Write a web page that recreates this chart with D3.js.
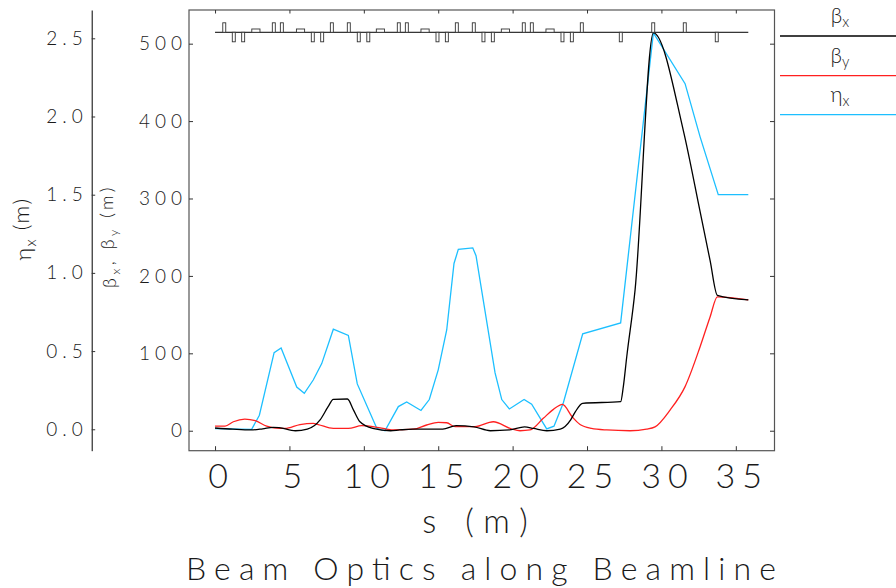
<!DOCTYPE html>
<html>
<head>
<meta charset="utf-8">
<script src="https://cdn.jsdelivr.net/npm/d3@7"></script>
<style>
body { margin: 0; background: #fff; }
svg { display: block; font-family: "Lato", sans-serif; font-weight: 300; }
svg text { fill: #1a1a1a; }
</style>
</head>
<body>
<script>
"use strict";
// s (m) vs beta_x (m)
const betaX = [[0,3.5],[1.2,2],[2.4,1],[3.2,2.5],[3.9,4.4],[4.3,4],[5.4,0],[6.2,2],[7.06,14],[7.6,31],[7.95,40.5],[8.9,41],[9.3,27],[9.74,11.6],[10.6,3],[11.8,0],[12.4,1],[13.3,2],[15.3,2],[16.2,6.5],[17.4,5],[18.5,0],[19.8,1],[20.8,5],[21.4,3],[22.3,0],[23.2,2],[23.9,14],[24.2,24],[24.7,35.4],[27.26,37.5],[27.44,57],[27.67,95.6],[28.23,182],[29.46,514],[31.47,388],[32.6,283],[33.27,220],[33.76,175],[35.84,169]];
// s (m) vs beta_y (m)
const betaY = [[0,6],[0.67,6],[1.23,11.6],[2.0,15],[2.7,13],[3.47,6],[4.37,3],[4.7,3],[5.71,8],[6.6,9.5],[6.94,8],[7.95,3],[8.96,3],[9.86,6.5],[10.87,4.4],[11.54,2],[12.0,1],[13.33,2],[14.22,7.4],[15.0,10.8],[15.57,10.3],[16.13,5.2],[17.47,5.2],[18.7,11.6],[19.94,2.2],[20.5,0],[21.17,1],[22.06,16],[22.74,27.6],[23.35,34],[24.0,18],[24.53,8],[25.3,3],[26.32,1],[27.89,0],[29.0,2],[29.57,5],[30.58,26.7],[31.59,57],[32.6,108.5],[33.27,147],[33.76,173],[35.84,169]];
// s (m) vs eta_x (m)
const etaX = [[0,0.004],[2.46,0],[2.98,0.09],[3.97,0.49],[4.44,0.52],[5.49,0.27],[6.0,0.23],[6.6,0.315],[7.17,0.42],[7.95,0.64],[8.96,0.6],[9.56,0.29],[10.87,0.006],[11.42,-0.01],[12.32,0.145],[12.88,0.175],[13.84,0.12],[14.4,0.19],[15.0,0.38],[15.57,0.635],[16.06,1.06],[16.35,1.15],[17.32,1.16],[17.54,1.11],[18.82,0.36],[19.27,0.19],[19.78,0.13],[20.77,0.19],[21.28,0.16],[22.29,0.002],[22.78,0.02],[23.41,0.17],[24.71,0.61],[27.26,0.68],[29.46,2.535],[31.59,2.21],[32.6,1.87],[33.82,1.5],[35.84,1.5]];
// beamline elements: start s (m)
const quadF = [0.52,3.85,4.39,7.75,8.89,12.25,12.79,16.15,17.29,20.65,21.19,24.55,29.35,31.47];
const quadD = [1.16,1.79,6.47,7.10,9.56,10.20,14.85,15.48,17.94,18.57,23.25,23.88,27.17,33.62];
const bends = [2.47,5.47,10.84,13.84,19.24,22.24];
const lineEnd = 35.84;
const sTicks = [0,5,10,15,20,25,30,35];
const betaTicks = [0,100,200,300,400,500];
const etaTicks = [0,0.5,1.0,1.5,2.0,2.5];

const W = 896, H = 588;
const L = 189, R = 774.5, T = 10, B = 450.7;
const svg = d3.select("body").append("svg").attr("width", W).attr("height", H);

const x = d3.scaleLinear().domain([-1.75, 37.6]).range([L, R]);
const yB = d3.scaleLinear().domain([-25.8, 543.5]).range([B, T]);
const yE = d3.scaleLinear().domain([-0.137, 2.681]).range([B, T]);

// frame
svg.append("rect").attr("x", L).attr("y", T).attr("width", R - L).attr("height", B - T)
	.attr("fill", "none").attr("stroke", "#555").attr("stroke-width", 1.2);

const gB = svg.append("g").attr("transform", `translate(${L},0)`)
	.call(d3.axisLeft(yB).tickValues(betaTicks).tickSize(-4).tickPadding(7).tickSizeOuter(0))
	.attr("font-family", null);
gB.select(".domain").remove();
gB.selectAll("text").attr("font-size", 19).style("letter-spacing", "5px").attr("dx", 5);

svg.append("g").attr("transform", `translate(${R},0)`)
	.call(d3.axisRight(yB).tickValues(betaTicks).tickSize(-4.5).tickFormat("").tickSizeOuter(0))
	.select(".domain").remove();
svg.append("g").attr("transform", `translate(0,${T})`)
	.call(d3.axisTop(x).tickValues(sTicks).tickSize(-3.5).tickFormat("").tickSizeOuter(0))
	.select(".domain").remove();

const gX = svg.append("g").attr("transform", `translate(0,${B})`)
	.call(d3.axisBottom(x).tickValues(sTicks).tickSize(-4.5).tickPadding(13).tickSizeOuter(0))
	.attr("font-family", null);
gX.select(".domain").remove();
gX.selectAll("text").attr("font-size", 34).style("letter-spacing", "7px").attr("dx", 6);

const gE = svg.append("g").attr("transform", "translate(91.7,0)")
	.call(d3.axisLeft(yE).tickValues(etaTicks).tickFormat(d3.format(".1f")).tickSize(-3.5).tickPadding(9).tickSizeOuter(0))
	.attr("font-family", null);
gE.select(".domain").attr("stroke", "#000");
gE.selectAll("text").attr("font-size", 19).style("letter-spacing", "5px").attr("dx", 5);

svg.selectAll(".tick line").attr("stroke", "#333");

// curves
const lineB = d3.line().x(d => x(d[0])).y(d => yB(d[1])).curve(d3.curveMonotoneX);
const lineE = d3.line().x(d => x(d[0])).y(d => yE(d[1]));
svg.append("path").datum(etaX).attr("d", lineE).attr("fill", "none").attr("stroke", "#1cbfff").attr("stroke-width", 1.3);
svg.append("path").datum(betaY).attr("d", lineB).attr("fill", "none").attr("stroke", "#ff2020").attr("stroke-width", 1.3);
svg.append("path").datum(betaX).attr("d", lineB).attr("fill", "none").attr("stroke", "#000").attr("stroke-width", 1.3);

// beamline layout on top
const base = yB(514.7);
const g = svg.append("g");
g.append("line").attr("x1", x(0)).attr("x2", x(lineEnd)).attr("y1", base).attr("y2", base).attr("stroke", "#000");
g.selectAll(".qf").data(quadF).enter().append("rect")
	.attr("x", d => x(d)).attr("width", x(0.2) - x(0)).attr("y", base - 9.5).attr("height", 9.5);
g.selectAll(".qd").data(quadD).enter().append("rect")
	.attr("x", d => x(d)).attr("width", x(0.2) - x(0)).attr("y", base).attr("height", 9.5);
g.selectAll(".bd").data(bends).enter().append("rect")
	.attr("x", d => x(d)).attr("width", x(0.55) - x(0)).attr("y", base - 3.3).attr("height", 3.3);
g.selectAll("rect").attr("fill", "#fff").attr("stroke", "#333").attr("stroke-width", 0.9);

// axis titles
svg.append("text").attr("x", 480).attr("y", 533).attr("text-anchor", "middle")
	.attr("font-size", 33).style("letter-spacing", "10px").text("s (m)");
svg.append("text").attr("x", 481).attr("y", 580).attr("text-anchor", "middle")
	.attr("font-size", 32).attr("textLength", 590).attr("lengthAdjust", "spacing")
	.text("Beam Optics along Beamline");

function subLabel(sel, parts) {
	parts.forEach(p => {
		const t = sel.append("tspan").text(p[0]);
		if (p[1]) t.attr("font-size", "0.7em").attr("dy", "0.3em");
		else if (p[2]) t.attr("dy", "-0.3em");
	});
}
const tE = svg.append("text").attr("transform", "translate(31,229) rotate(-90)").attr("text-anchor", "middle")
	.attr("font-size", 22).style("letter-spacing", "1.5px");
subLabel(tE, [["η"], ["x", 1], [" (m)", 0, 1]]);
const tB = svg.append("text").attr("transform", "translate(116,236) rotate(-90)").attr("text-anchor", "middle")
	.attr("font-size", 18).style("letter-spacing", "3.5px");
subLabel(tB, [["β"], ["x", 1], [", β", 0, 1], ["y", 1], [" (m)", 0, 1]]);

// legend
const legend = [["β", "x", "#000", 36], ["β", "y", "#ff2020", 75.7], ["η", "x", "#1cbfff", 114.7]];
legend.forEach(l => {
	svg.append("line").attr("x1", 780).attr("x2", 896).attr("y1", l[3]).attr("y2", l[3]).attr("stroke", l[2]).attr("stroke-width", 1.3);
	const t = svg.append("text").attr("x", 840).attr("y", l[3] - 13).attr("text-anchor", "middle")
		.attr("font-size", 21);
	subLabel(t, [[l[0]], [l[1], 1]]);
});
</script>
</body>
</html>
